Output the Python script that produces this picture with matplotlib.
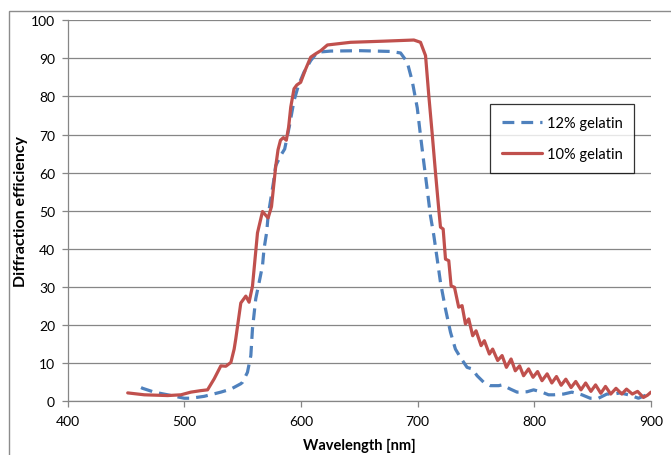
import numpy as np
import matplotlib
matplotlib.use("Agg")
import matplotlib.pyplot as plt
from matplotlib.patches import Rectangle

# 12% gelatin (blue dashed)
wl_12 = [463, 464.4, 474.3, 485.8, 500, 505.7, 517.1, 531.4, 540, 548.5, 550, 554.2,
         557.1, 558.5, 561.3, 564.2, 567.1, 568.4, 570.7, 571.9, 574.2, 576.5, 578.4,
         582.7, 586.1, 590, 594.1, 598, 602.7, 608.4, 614.1, 625.5, 651, 677, 685.4,
         691.1, 695.4, 699.7, 702.5, 705.3, 708.2, 711, 713.9, 716.8, 719.6, 723.9,
         728.2, 732.4, 736.7, 742.4, 746.7, 751, 756.6, 762.3, 769.5, 772.4, 779.5,
         785.2, 793.8, 799.4, 806.6, 812.2, 816.5, 825.1, 832.2, 840.8, 847.9, 855,
         862.2, 867.9, 873.6, 882.1, 889.2, 896.4, 900]
de_12 = [3.6, 3.4, 2.4, 1.7, 0.8, 0.8, 1.3, 2.4, 3.2, 4.6, 5.0, 7.6,
         12.0, 19.0, 26.9, 31.2, 35.6, 40.0, 44.4, 48.7, 53.1, 57.5, 61.8,
         64.5, 66.2, 72.0, 78.9, 83.0, 86.4, 89.4, 91.6, 91.9, 92.0, 91.8, 91.4,
         89.0, 84.0, 77.0, 69.7, 62.7, 55.7, 48.7, 43.5, 37.3, 31.2, 24.2,
         18.1, 13.7, 11.5, 8.9, 8.5, 6.7, 5.0, 4.1, 4.1, 4.3, 3.2,
         2.4, 2.5, 3.0, 2.4, 1.7, 1.7, 1.9, 2.4, 1.7, 0.8, 0.8,
         1.9, 1.9, 2.2, 1.6, 0.8, 1.7, 2.4]

# 10% gelatin (red solid)
wl_10 = [451.6, 465.8, 485.8, 497.2, 505.7, 514.3, 520, 525.7, 531.4, 535.7, 540,
         542.8, 544.2, 548.5, 552.8, 555.6, 558.5, 562.8, 567.1, 571.9, 574.8, 578.4,
         580.4, 582.5, 585, 587.5, 589.5, 591.3, 594.1, 596.5, 599.8, 604.1, 608.4,
         612.7, 617, 622.7, 642.6, 671.1, 696.8, 702.5, 706.8, 709.6, 712.5, 715.3,
         718.1, 719.6, 721.9, 723.9, 726.7, 728.7, 731.6, 735.2, 738.1, 741, 743.8,
         747.2, 750.1, 754.4, 757.2, 761.5, 764.3, 768.6, 772.4, 776.1, 780.1, 783.7,
         787.4, 790.8, 795.1, 798.9, 802.8, 806.6, 811, 815, 819, 823, 827,
         831.5, 835.5, 840, 844, 848.5, 852.5, 857, 861, 865.5, 870, 875,
         879, 884, 888.5, 893.5, 897, 900]
de_10 = [2.2, 1.7, 1.5, 1.7, 2.4, 2.8, 3.0, 5.9, 9.3, 9.2, 10.2,
         13.7, 16.4, 25.8, 27.6, 26.0, 30.2, 44.2, 49.8, 48.1, 51.1, 61.6,
         66.0, 68.5, 69.2, 68.5, 72.0, 77.2, 82.0, 83.0, 83.7, 87.2, 90.3,
         91.2, 92.0, 93.5, 94.2, 94.5, 94.8, 94.2, 90.7, 80.2, 70.2, 60.1,
         50.5, 45.7, 45.2, 37.3, 36.9, 30.3, 29.9, 24.7, 25.1, 20.3, 21.6,
         17.2, 18.5, 14.6, 15.9, 12.4, 13.7, 10.7, 12.0, 8.9, 11.1, 8.0,
         9.3, 6.7, 8.5, 6.3, 7.8, 5.4, 7.2, 4.8, 6.5, 4.2, 5.8,
         3.6, 5.2, 3.0, 4.8, 2.6, 4.3, 2.1, 3.9, 1.9, 3.4, 1.9,
         3.2, 1.9, 2.6, 1.0, 1.6, 2.4]

plt.rcParams['font.family'] = ['Lato', 'DejaVu Sans']

fig = plt.figure(figsize=(6.71, 4.56), dpi=100)
ax = fig.add_axes([0.1006, 0.1178, 0.8696, 0.8357])

# chart area border (only left/top visible in the reference)
fig.patches.append(Rectangle((9 / 671, -0.1), 1.2, 1 - 12 / 456 + 0.1,
                             transform=fig.transFigure, fill=False,
                             edgecolor='#8c8c8c', lw=1.0))

ax.plot(wl_12, de_12, color='#4F81BD', lw=2.3, dashes=(3.7, 2.2),
        dash_joinstyle='round', label='12% gelatin')
ax.plot(wl_10, de_10, color='#C0504D', lw=2.3, solid_joinstyle='round',
        solid_capstyle='round', label='10% gelatin')

ax.set_xlim(400, 900)
ax.set_ylim(0, 100)
ax.set_xticks(np.arange(400, 901, 100))
ax.set_yticks(np.arange(0, 101, 10))
ax.yaxis.grid(True, color='#868686', lw=0.9)
ax.set_axisbelow(True)

for s in ['top', 'right']:
    ax.spines[s].set_visible(False)
for s in ['left', 'bottom']:
    ax.spines[s].set_color('#868686')
    ax.spines[s].set_linewidth(0.9)

ax.tick_params(axis='both', colors='#868686', labelcolor='black',
               labelsize=10, length=4, width=0.9, direction='out')
ax.tick_params(axis='x', pad=6)
ax.tick_params(axis='y', pad=5)

ax.set_xlabel('Wavelength [nm]', fontsize=10.5, fontweight='bold', labelpad=8)
ax.set_ylabel('Diffraction efficiency', fontsize=11.5, fontweight='bold')
ax.yaxis.set_label_coords(-0.0677, 0.5)

leg = ax.legend(loc='upper left', bbox_to_anchor=(0.724, 0.7795),
                frameon=True, fancybox=False, fontsize=10.5,
                handlelength=2.8, borderpad=0.8, labelspacing=1.2,
                handletextpad=0.3, borderaxespad=0)
leg.get_frame().set_edgecolor('black')
leg.get_frame().set_linewidth(0.9)

fig.savefig('out.png', dpi=100)
